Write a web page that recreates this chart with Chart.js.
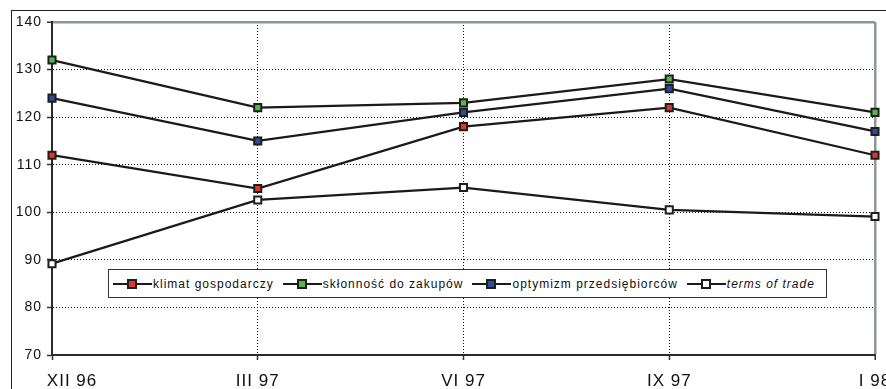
<!DOCTYPE html>
<html>
<head>
<meta charset="utf-8">
<script src="https://cdn.jsdelivr.net/npm/chart.js@4"></script>
<style>
  html, body { margin: 0; padding: 0; background: #fff; }
  #wrap { position: relative; width: 886px; height: 389px; overflow: hidden; background: #fff; }
  #frame { position: absolute; left: 11px; top: 10px; width: 900px; height: 400px;
           border-left: 1px solid #222; border-top: 1px solid #222; }
  #chart { position: absolute; left: 0; top: 0; }
  #legend { position: absolute; left: 108px; top: 269px; width: 719px; height: 29px;
            box-sizing: border-box; border: 1px solid #333; background: #fff;
            display: flex; align-items: center; padding-left: 4px;
            font: 12px "Liberation Sans", Arial, sans-serif; letter-spacing: 1px; color: #111; }
  .item { display: flex; align-items: center; margin-right: 9px; white-space: nowrap; }
  .item svg { margin-right: 1px; }
</style>
</head>
<body>
<div id="wrap">
  <div id="frame"></div>
  <canvas id="chart" width="886" height="389"></canvas>
  <div id="legend"></div>
</div>
<script>
// Quarterly business-climate indices
const categories = ['XII 96', 'III 97', 'VI 97', 'IX 97', 'I 98'];
const klimatGospodarczy = [112, 105, 118, 122, 112];
const sklonnoscDoZakupow = [132, 122, 123, 128, 121];
const optymizmPrzedsiebiorcow = [124, 115, 121, 126, 117];
const termsOfTrade = [89.2, 102.6, 105.2, 100.5, 99.1];

const yMin = 70, yMax = 140, yStep = 10;

const seriesNames = ['klimat gospodarczy', 'skłonność do zakupów', 'optymizm przedsiębiorców', 'terms of trade'];
const seriesFills = ['#e3342c', '#50b848', '#2c4c9c', '#ffffff'];
const seriesValues = [klimatGospodarczy, sklonnoscDoZakupow, optymizmPrzedsiebiorcow, termsOfTrade];

const FONT = '"Liberation Sans", Arial, sans-serif';
const LINE = '#1a1a1a';
const FRAME_GREY = '#8f9898';
const DOTS = '#111';

const datasets = seriesValues.map((vals, i) => ({
  label: seriesNames[i],
  data: vals,
  borderColor: LINE,
  borderWidth: 2.2,
  pointStyle: 'rect',
  pointRadius: 5,
  pointHoverRadius: 5,
  pointBorderWidth: 2,
  pointBorderColor: '#1e1e1e',
  pointBackgroundColor: seriesFills[i],
  tension: 0,
  fill: false,
  clip: false
}));

// wider glyph spacing for the axis labels
const letterSpacing = {
  id: 'letterSpacing',
  beforeDraw(chart) { chart.ctx.letterSpacing = '1px'; },
  afterDraw(chart) { chart.ctx.letterSpacing = '0px'; }
};

new Chart(document.getElementById('chart'), {
  type: 'line',
  data: { labels: categories, datasets: datasets },
  plugins: [letterSpacing],
  options: {
    responsive: false,
    animation: false,
    layout: { padding: { top: 22, right: 11, bottom: 0, left: 0 } },
    plugins: { legend: { display: false }, tooltip: { enabled: false } },
    scales: {
      x: {
        type: 'category',
        offset: false,
        afterFit(scale) { scale.height = 34; scale.paddingLeft = 0; scale.paddingRight = 0; },
        grid: {
          color: ctx => ctx.index === 0 ? 'rgba(0,0,0,0)' : (ctx.index === categories.length - 1 ? FRAME_GREY : DOTS),
          lineWidth: ctx => ctx.index === categories.length - 1 ? 2.5 : 1,
          tickColor: '#333',
          tickLength: 5,
          tickWidth: 1.5,
          tickBorderDash: []
        },
        border: {
          display: true, color: '#2a2a2a', width: 2,
          dash: ctx => ctx.index === categories.length - 1 ? [] : [1, 2]
        },
        ticks: {
          autoSkip: false, maxRotation: 0, minRotation: 0,
          color: '#111', padding: 11,
          font: { family: FONT, size: 17 },
          callback(value, index) {
            const lbl = this.getLabelForValue(value);
            return index === 0 ? '       ' + lbl : lbl;
          }
        }
      },
      y: {
        min: yMin, max: yMax,
        afterFit(scale) { scale.width = 52; scale.paddingTop = 0; scale.paddingBottom = 0; },
        grid: {
          color: ctx => ctx.tick.value === yMax ? FRAME_GREY : (ctx.tick.value === yMin ? 'rgba(0,0,0,0)' : DOTS),
          lineWidth: ctx => ctx.tick.value === yMax ? 2.5 : 1,
          tickColor: '#333',
          tickLength: 5,
          tickWidth: 1.5,
          tickBorderDash: []
        },
        border: {
          display: true, color: '#2a2a2a', width: 2,
          dash: ctx => ctx.tick && ctx.tick.value === yMax ? [] : [1, 2]
        },
        ticks: {
          stepSize: yStep, color: '#111', padding: 5,
          font: { family: FONT, size: 14 }
        }
      }
    }
  }
});

// legend box inside the plot
const legend = document.getElementById('legend');
seriesNames.forEach((name, i) => {
  const item = document.createElement('div');
  item.className = 'item';
  item.innerHTML =
    '<svg width="39" height="10" viewBox="0 0 39 10">' +
    '<line x1="0" y1="5" x2="39" y2="5" stroke="' + LINE + '" stroke-width="2"/>' +
    '<rect x="15" y="1" width="8" height="8" fill="' + seriesFills[i] + '" stroke="#1e1e1e" stroke-width="2"/>' +
    '</svg>';
  const span = document.createElement('span');
  span.textContent = name;
  if (i === seriesNames.length - 1) span.style.fontStyle = 'italic';
  item.appendChild(span);
  legend.appendChild(item);
});
</script>
</body>
</html>
